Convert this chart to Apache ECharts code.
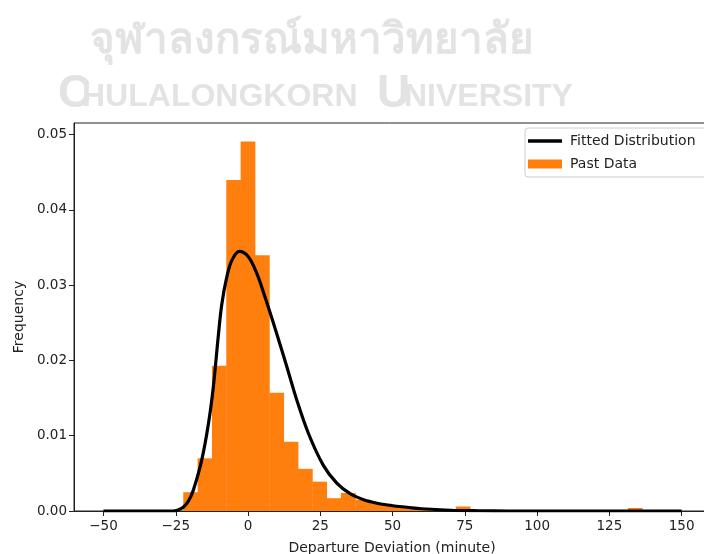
<!DOCTYPE html>
<html>
<head>
<meta charset="utf-8">
<script src="https://cdn.jsdelivr.net/npm/echarts@6/dist/echarts.min.js"></script>
<style>html,body{margin:0;padding:0;background:#fff;}#c{width:704px;height:554px;}</style>
</head>
<body>
<div id="c"></div>
<script>
// Histogram bins (Past Data)
const binStart = -22.4;
const binWidth = 4.96;
const pastFreq = [0.0025, 0.0070, 0.0193, 0.0440, 0.0491, 0.0340, 0.0157, 0.0092,
  0.0056, 0.0039, 0.0017, 0.0024, 0.0015, 0.0010, 0.0007, 0.0004, 0.0003, 0.0002,
  0.0001, 0.0006, 0.0001, 0.0000, 0.0001, 0.0001, 0.0000, 0.0000, 0.0000, 0.0000,
  0.0000, 0.0000, 0.0000, 0.0004];

// Fitted distribution curve
const curveX = [-50, -35, -28, -26, -24.5, -22.4, -20.5, -18.9, -16, -13.7, -12, -10.3, -9.1, -7.4, -5.6, -3, 0.1, 3, 5.9, 9.9, 13.4, 16.9, 20.9, 26, 30.7, 35.3, 40, 45, 50, 55, 60, 70, 80, 90, 100, 125, 150];
const curveY = [0, 0, 0, 0, 0.0001, 0.0005, 0.0014, 0.0028, 0.0068, 0.0116, 0.0165, 0.0232, 0.0274, 0.0310, 0.0333, 0.0345, 0.0338, 0.0316, 0.0284, 0.0236, 0.0192, 0.0147, 0.0103, 0.0061, 0.0037, 0.0023, 0.0015, 0.0010, 0.0007, 0.0005, 0.0003, 0.0001, 0.00003, 0, 0, 0, 0];

const xTicks = [-50, -25, 0, 25, 50, 75, 100, 125, 150];
const yTicks = [0, 0.01, 0.02, 0.03, 0.04, 0.05];

const histData = pastFreq.map((f, i) => [binStart + i * binWidth, binStart + (i + 1) * binWidth, f]).filter(d => d[2] > 0);
const lineData = curveX.map((x, i) => [x, curveY[i]]);

const FONT = 'DejaVu Sans';
const WM = '#e3e3e3';
const chart = echarts.init(document.getElementById('c'), null, {renderer: 'canvas'});
chart.setOption({
  animation: false,
  backgroundColor: '#fff',
  textStyle: {fontFamily: FONT},
  graphic: [
    {type: 'text', left: 90, top: 20, z: -1, style: {text: 'จุฬาลงกรณ์มหาวิทยาลัย', font: 'bold 42px "Noto Sans", sans-serif', fill: WM}},
    {type: 'text', left: 58, top: 71, z: -1, style: {text: 'C', font: 'bold 46px "Liberation Sans Narrow", "Liberation Sans", sans-serif', fill: WM}},
    {type: 'text', left: 82, top: 81, z: -1, style: {text: 'HULALONGKORN', font: 'bold 32px "Liberation Sans Narrow", "Liberation Sans", sans-serif', fill: WM}},
    {type: 'text', left: 377, top: 71, z: -1, style: {text: 'U', font: 'bold 46px "Liberation Sans Narrow", "Liberation Sans", sans-serif', fill: WM}},
    {type: 'text', left: 404, top: 81, z: -1, style: {text: 'NIVERSITY', font: 'bold 32px "Liberation Sans Narrow", "Liberation Sans", sans-serif', fill: WM}}
  ],
  grid: {left: 74, top: 123, width: 636, height: 388, outerBoundsMode: 'none', show: true, borderColor: '#222', borderWidth: 1, backgroundColor: 'transparent', containLabel: false},
  legend: {
    orient: 'vertical', left: 525, top: 128,
    padding: [6, 12, 6, 3], itemGap: 9, itemWidth: 34, itemHeight: 9,
    backgroundColor: 'rgba(255,255,255,0.8)', borderColor: '#cccccc', borderWidth: 1, borderRadius: 3,
    textStyle: {fontFamily: FONT, fontSize: 14, color: '#222', padding: [0, 0, 0, 3]},
    data: [
      {name: 'Fitted Distribution', icon: 'path://M0,0L34,0L34,3.5L0,3.5Z', itemStyle: {color: '#000'}},
      {name: 'Past Data', icon: 'rect'}
    ]
  },
  xAxis: {
    type: 'value', min: -60.2, max: 159.8,
    name: 'Departure Deviation (minute)', nameLocation: 'middle', nameGap: 30,
    nameTextStyle: {fontFamily: FONT, fontSize: 14, color: '#222'},
    axisLine: {show: true, onZero: false, lineStyle: {color: '#222', width: 1}},
    axisTick: {show: true, length: 5, lineStyle: {color: '#222'}, customValues: xTicks},
    axisLabel: {fontFamily: FONT, fontSize: 13.5, color: '#222', margin: 8, customValues: xTicks,
      formatter: v => String(v).replace('-', '\u2212')},
    splitLine: {show: false}
  },
  yAxis: {
    type: 'value', min: 0, max: 0.05156,
    name: 'Frequency', nameLocation: 'middle', nameGap: 48,
    nameTextStyle: {fontFamily: FONT, fontSize: 14, color: '#222'},
    axisLine: {show: true, onZero: false, lineStyle: {color: '#222', width: 1}},
    axisTick: {show: true, length: 5, lineStyle: {color: '#222'}, customValues: yTicks},
    axisLabel: {fontFamily: FONT, fontSize: 13.5, color: '#222', margin: 7, customValues: yTicks,
      formatter: v => v.toFixed(2)},
    splitLine: {show: false}
  },
  series: [
    {
      name: 'Past Data', type: 'custom', z: 2,
      itemStyle: {color: '#ff7f0e'},
      encode: {x: [0, 1], y: 2},
      data: histData,
      renderItem: function (params, api) {
        const p0 = api.coord([api.value(0), api.value(2)]);
        const p1 = api.coord([api.value(1), 0]);
        return {type: 'rect', shape: {x: p0[0], y: p0[1], width: p1[0] - p0[0] + 0.4, height: p1[1] - p0[1]},
          style: {fill: '#ff7f0e'}};
      }
    },
    {
      name: 'Fitted Distribution', type: 'line', z: 3,
      data: lineData, showSymbol: false, symbol: 'none', smooth: 0.35,
      lineStyle: {color: '#000', width: 3.2},
      itemStyle: {color: '#000'}
    }
  ]
});
</script>
</body>
</html>
